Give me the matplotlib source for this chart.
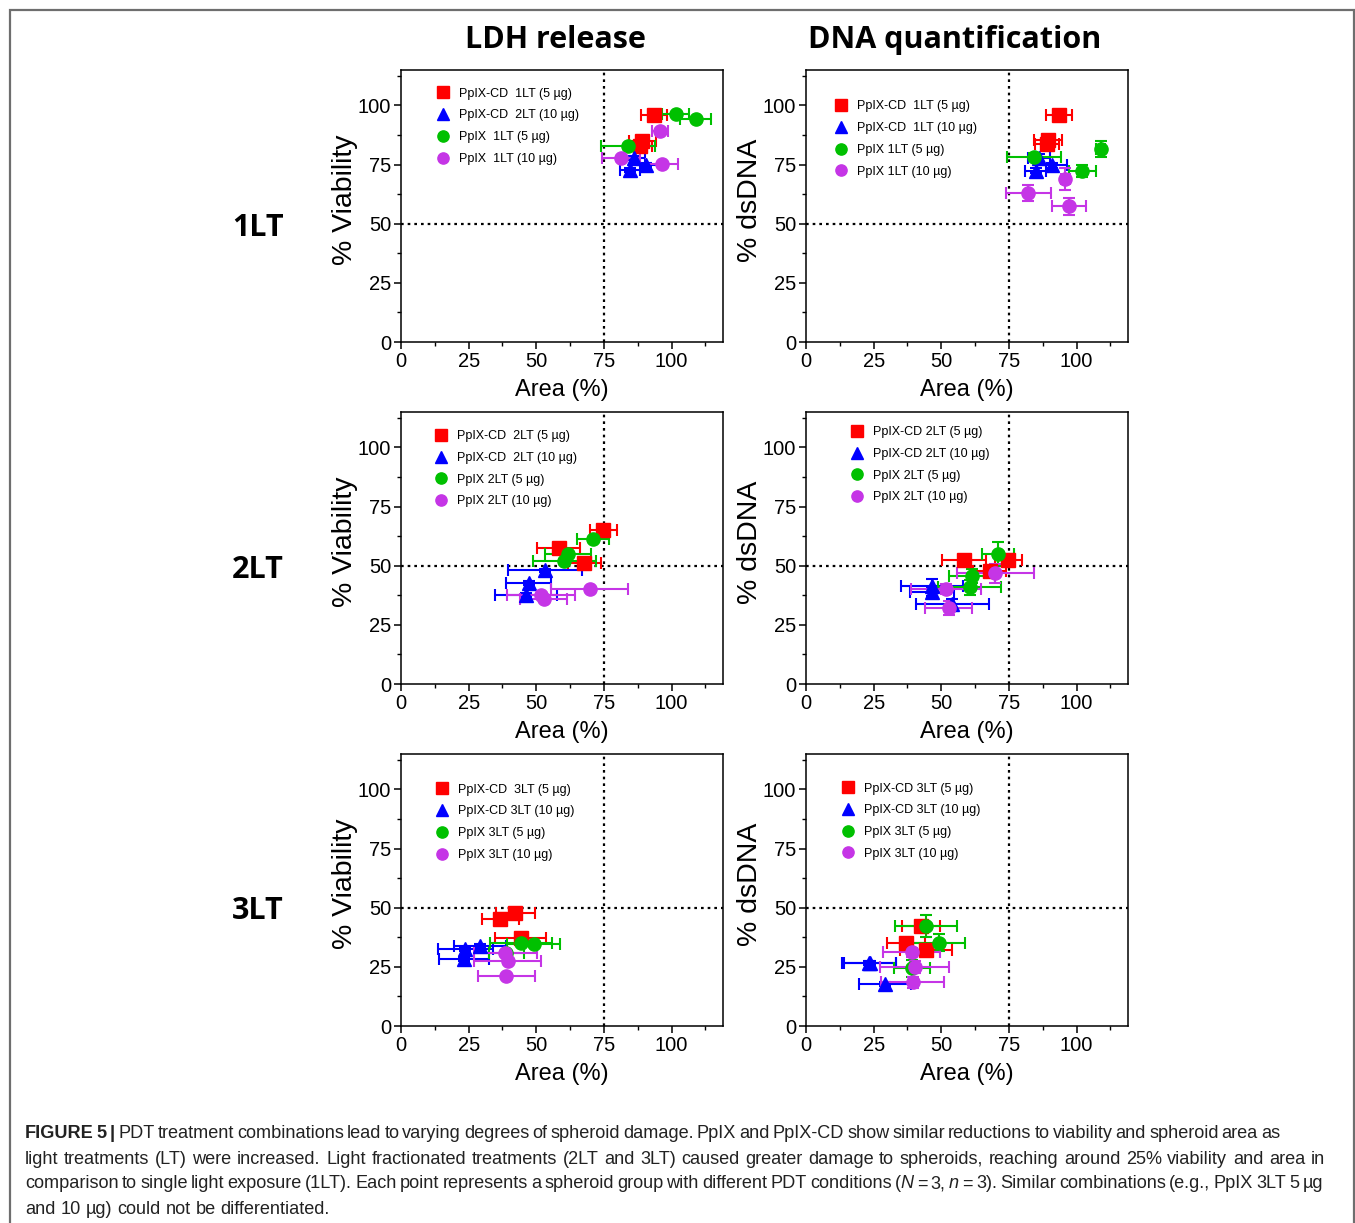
import matplotlib
matplotlib.use("Agg")
import matplotlib.pyplot as plt
from matplotlib.patches import Rectangle

plt.rcParams['font.family'] = ['Liberation Sans', 'DejaVu Sans']

# each point: (area %, y %, area err, y err)
# --- LDH release, 1LT ---
ldh1_cd5 = [(93.4, 95.8, 4.8, 0.8), (89.1, 84.9, 5.0, 0.8), (88.4, 83.0, 4.5, 0.8)]
ldh1_cd10 = [(86.0, 77.8, 4.0, 0.8), (90.4, 75.0, 5.9, 0.8), (84.6, 72.6, 3.8, 0.8)]
ldh1_p5 = [(101.5, 96.2, 4.9, 0.5), (108.9, 94.1, 5.7, 0.5), (84.0, 83.0, 10.0, 0.5)]
ldh1_p10 = [(95.7, 89.1, 3.0, 0.5), (81.4, 77.8, 7.0, 0.5), (96.5, 75.3, 5.9, 0.5)]
# --- DNA quantification, 1LT ---
dna1_cd5 = [(93.5, 95.8, 4.8, 1.0), (89.4, 85.3, 5.2, 1.5), (89.0, 83.6, 4.5, 1.0)]
dna1_cd10 = [(86.0, 77.8, 4.0, 1.5), (91.0, 74.7, 5.5, 1.0), (84.9, 72.5, 3.8, 1.0)]
dna1_p5 = [(108.9, 81.6, 1.7, 3.5), (102.1, 72.2, 4.9, 2.5), (84.3, 78.3, 10.0, 1.5)]
dna1_p10 = [(95.9, 68.9, 1.5, 4.6), (82.1, 63.0, 8.3, 3.5), (97.1, 57.3, 6.2, 3.5)]
# --- LDH release, 2LT ---
ldh2_cd5 = [(74.7, 65.0, 5.0, 0.8), (58.3, 57.5, 8.0, 0.8), (67.8, 51.1, 6.0, 0.8)]
ldh2_cd10 = [(53.3, 48.0, 13.6, 0.8), (47.2, 42.7, 8.3, 0.8), (46.3, 37.7, 11.4, 0.8)]
ldh2_p5 = [(71.0, 61.3, 5.9, 0.5), (61.7, 55.1, 8.6, 0.5), (60.4, 51.8, 11.6, 0.5)]
ldh2_p10 = [(69.7, 40.3, 14.2, 0.5), (51.7, 37.7, 12.6, 0.5), (52.7, 35.9, 8.8, 0.5)]
# --- DNA quantification, 2LT ---
dna2_cd5 = [(58.5, 52.3, 8.2, 1.5), (74.7, 52.3, 5.0, 2.0), (67.9, 47.6, 6.0, 2.0)]
dna2_cd10 = [(46.5, 41.5, 11.4, 3.0), (46.5, 39.1, 8.1, 2.0), (54.0, 33.9, 13.5, 2.0)]
dna2_p5 = [(71.0, 55.0, 5.9, 5.0), (61.4, 45.8, 8.6, 3.0), (60.5, 40.8, 11.6, 3.0)]
dna2_p10 = [(70.0, 46.9, 14.2, 4.0), (51.7, 40.1, 12.8, 2.0), (52.7, 32.1, 8.8, 3.0)]
# --- LDH release, 3LT ---
ldh3_cd5 = [(42.2, 47.8, 7.2, 0.8), (36.7, 45.2, 6.8, 0.8), (44.3, 37.2, 9.4, 0.8)]
ldh3_cd10 = [(29.3, 33.9, 9.6, 0.8), (23.7, 32.5, 10.2, 0.8), (23.3, 28.3, 9.3, 0.8)]
ldh3_p5 = [(49.0, 34.6, 9.9, 0.5), (44.3, 35.3, 11.5, 0.5), (38.9, 30.8, 6.5, 0.5)]
ldh3_p10 = [(38.6, 30.9, 11.5, 0.5), (39.4, 27.3, 12.5, 0.5), (38.9, 21.2, 10.5, 0.5)]
# --- DNA quantification, 3LT ---
dna3_cd5 = [(42.6, 42.1, 7.1, 1.5), (36.9, 35.0, 7.1, 1.5), (44.3, 32.1, 9.6, 1.5)]
dna3_cd10 = [(23.7, 26.6, 9.6, 0.8), (23.3, 26.8, 10.0, 0.8), (29.3, 17.9, 9.6, 0.8)]
dna3_p5 = [(44.3, 42.4, 11.5, 4.7), (49.0, 35.3, 9.9, 3.5), (39.1, 24.4, 6.6, 3.5)]
dna3_p10 = [(39.1, 31.1, 10.5, 2.0), (40.1, 25.1, 12.7, 2.5), (39.4, 18.4, 11.5, 2.5)]

leg_ldh1 = ['PpIX-CD  1LT (5 µg)', 'PpIX-CD  2LT (10 µg)', 'PpIX  1LT (5 µg)', 'PpIX  1LT (10 µg)']
leg_dna1 = ['PpIX-CD  1LT (5 µg)', 'PpIX-CD  1LT (10 µg)', 'PpIX 1LT (5 µg)', 'PpIX 1LT (10 µg)']
leg_ldh2 = ['PpIX-CD  2LT (5 µg)', 'PpIX-CD  2LT (10 µg)', 'PpIX 2LT (5 µg)', 'PpIX 2LT (10 µg)']
leg_dna2 = ['PpIX-CD 2LT (5 µg)', 'PpIX-CD 2LT (10 µg)', 'PpIX 2LT (5 µg)', 'PpIX 2LT (10 µg)']
leg_ldh3 = ['PpIX-CD  3LT (5 µg)', 'PpIX-CD 3LT (10 µg)', 'PpIX 3LT (5 µg)', 'PpIX 3LT (10 µg)']
leg_dna3 = ['PpIX-CD 3LT (5 µg)', 'PpIX-CD 3LT (10 µg)', 'PpIX 3LT (5 µg)', 'PpIX 3LT (10 µg)']

col_titles = ['LDH release', 'DNA quantification']
row_titles = ['1LT', '2LT', '3LT']
ylabels = ['% Viability', '% dsDNA']
ticks = [0, 25, 50, 75, 100]

colors = ['#FF0000', '#0000FF', '#00C000', '#C535E6']
markers = ['s', '^', 'o', 'o']

W, H = 1355, 1223
fig = plt.figure(figsize=(W / 100, H / 100), dpi=100)

# frame around whole figure
fig.patches.append(Rectangle((9.5 / W, -0.01), (1353.5 - 9.5) / W, 1.01 - 9.5 / H,
                             transform=fig.transFigure, fill=False,
                             edgecolor='#6e6e6e', linewidth=1.6))

panels = [
    [(ldh1_cd5, ldh1_cd10, ldh1_p5, ldh1_p10), (dna1_cd5, dna1_cd10, dna1_p5, dna1_p10)],
    [(ldh2_cd5, ldh2_cd10, ldh2_p5, ldh2_p10), (dna2_cd5, dna2_cd10, dna2_p5, dna2_p10)],
    [(ldh3_cd5, ldh3_cd10, ldh3_p5, ldh3_p10), (dna3_cd5, dna3_cd10, dna3_p5, dna3_p10)],
]
legends = [[leg_ldh1, leg_dna1], [leg_ldh2, leg_dna2], [leg_ldh3, leg_dna3]]
# legend anchor (axes fraction) per panel
leg_pos = [[(0.11, 0.935), (0.09, 0.888)],
           [(0.105, 0.933), (0.138, 0.948)],
           [(0.108, 0.891), (0.11, 0.895)]]

ax_left = [401, 806]
ax_top = [70, 412, 754]
aw, ah = 322, 272

draw_order = [3, 2, 1, 0]  # purple, green, blue, red on top

for r in range(3):
    for c in range(2):
        ax = fig.add_axes([ax_left[c] / W, 1 - (ax_top[r] + ah) / H, aw / W, ah / H])
        groups = panels[r][c]
        handles = [None] * 4
        for k in draw_order:
            pts = groups[k]
            xs = [p[0] for p in pts]
            ys = [p[1] for p in pts]
            xe = [p[2] for p in pts]
            ye = [p[3] for p in pts]
            ax.errorbar(xs, ys, xerr=xe, yerr=ye, fmt='none', ecolor=colors[k],
                        elinewidth=1.5, capsize=4, capthick=1.5, zorder=2 + k * 0.1)
            ms = 10.5 if markers[k] == '^' else 9.5
            h, = ax.plot(xs, ys, linestyle='none', marker=markers[k], color=colors[k],
                         markersize=ms, zorder=3 + k * 0.1)
            handles[k] = h
        ax.axvline(75, color='black', linestyle=(0, (1.2, 1.8)), linewidth=1.6, zorder=1)
        ax.axhline(50, color='black', linestyle=(0, (1.2, 1.8)), linewidth=1.6, zorder=1)
        ax.set_xlim(0, 119)
        ax.set_ylim(0, 115)
        ax.set_xticks(ticks)
        ax.set_yticks(ticks)
        ax.set_xticks([12.5, 37.5, 62.5, 87.5, 112.5], minor=True)
        ax.set_yticks([12.5, 37.5, 62.5, 87.5, 112.5], minor=True)
        ax.tick_params(which='major', direction='out', length=5, width=1.1,
                       labelsize=14.5, pad=2)
        ax.tick_params(which='minor', direction='out', length=3, width=1.0)
        for s in ax.spines.values():
            s.set_linewidth(1.1)
        lx, ly = leg_pos[r][c]
        ax.legend(handles, legends[r][c], loc='upper left', bbox_to_anchor=(lx, ly),
                  frameon=False, fontsize=9, handlelength=1.0, handletextpad=0.8,
                  labelspacing=0.78, borderpad=0, borderaxespad=0, markerscale=0.85)

        cx = (ax_left[c] + aw / 2) / W
        fig.text(cx, 1 - 390 / H - (ax_top[r] - 70) / H, 'Area (%)', ha='center',
                 va='center', fontsize=17)
        fig.text((ax_left[c] - 56) / W, 1 - (ax_top[r] + 130) / H, ylabels[c],
                 rotation=90, ha='center', va='center', fontsize=20.5)

for c, t in enumerate(col_titles):
    fig.text([555, 955][c] / W, 1 - 40 / H, t, ha='center', va='center',
             fontsize=22, fontweight='bold', family=['Open Sans', 'DejaVu Sans'])
for r, t in enumerate(row_titles):
    fig.text(258 / W, 1 - (228 + 342 * r - (r == 2)) / H, t, ha='center', va='center',
             fontsize=22, fontweight='bold', family=['Open Sans', 'DejaVu Sans'])


# caption: words made of styled parts, justified lines
def plain(s):
    return [[(w, 'normal', 'normal')] for w in s.split(' ')]


cap_lines = [
    [[('FIGURE', 'bold', 'normal')], [('5', 'bold', 'normal')], [('|', 'bold', 'normal')]]
    + plain('PDT treatment combinations lead to varying degrees of spheroid damage. PpIX and PpIX-CD show similar reductions to viability and spheroid area as'),
    plain('light treatments (LT) were increased. Light fractionated treatments (2LT and 3LT) caused greater damage to spheroids, reaching around 25% viability and area in'),
    plain('comparison to single light exposure (1LT). Each point represents a spheroid group with different PDT conditions')
    + [[('(', 'normal', 'normal'), ('N', 'normal', 'italic')], [('=', 'normal', 'normal')],
       [('3,', 'normal', 'normal')], [('n', 'normal', 'italic')], [('=', 'normal', 'normal')]]
    + plain('3). Similar combinations (e.g., PpIX 3LT 5 µg'),
    plain('and 10 µg) could not be differentiated.'),
]
cap_right = [1280, 1325, 1323, None]
cap_size = 13.1

fig.canvas.draw()
renderer = fig.canvas.get_renderer()
probe = fig.text(0, 0, 'a b', fontsize=cap_size)
probe2 = fig.text(0, 0, 'ab', fontsize=cap_size)
space_w = (probe.get_window_extent(renderer).width
           - probe2.get_window_extent(renderer).width)
probe.remove()
probe2.remove()

for i, words in enumerate(cap_lines):
    y = 1 - (1134 + 25 * i) / H
    items = []
    total = 0.0
    for word in words:
        parts = []
        for txt, weight, style in word:
            t = fig.text(0, y, txt, ha='left', va='center', fontsize=cap_size,
                         fontweight=weight, fontstyle=style, color='#222222')
            w = t.get_window_extent(renderer).width
            parts.append((t, w))
            total += w
        items.append(parts)
    if cap_right[i] is None:
        gap = space_w
    else:
        gap = (cap_right[i] - 25 - total) / (len(items) - 1)
    x = 25.0
    for parts in items:
        for t, w in parts:
            t.set_x(x / W)
            x += w
        x += gap

fig.savefig('out.png', dpi=100)
